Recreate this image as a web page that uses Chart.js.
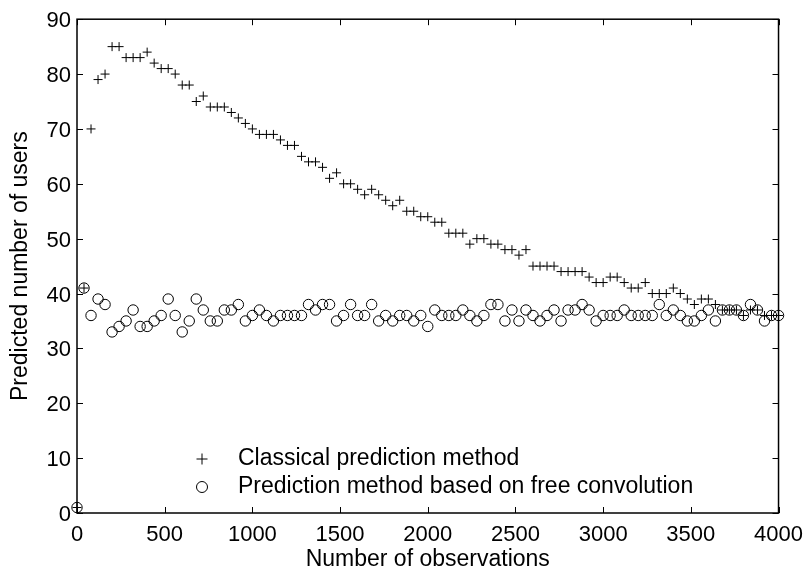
<!doctype html>
<html lang="en">
<head>
  <meta charset="utf-8">
  <title>Predicted number of users</title>
  <style>
    * {
      margin: 0;
      padding: 0;
    }
    body {
      background: white;
    }
    .chartBox {
      width: 812px;
      height: 570px;
    }
  </style>
</head>
<body>
<div class="chartBox">
  <canvas id="myChart" width="812" height="570"></canvas>
</div>

<script src="https://cdn.jsdelivr.net/npm/chart.js"></script>
<script>
  // number of observations (x)
  const observations = [
    0, 40, 80, 120, 160, 200, 240, 280, 320, 360,
    400, 440, 480, 520, 560, 600, 640, 680, 720, 760,
    800, 840, 880, 920, 960, 1000, 1040, 1080, 1120, 1160,
    1200, 1240, 1280, 1320, 1360, 1400, 1440, 1480, 1520, 1560,
    1600, 1640, 1680, 1720, 1760, 1800, 1840, 1880, 1920, 1960,
    2000, 2040, 2080, 2120, 2160, 2200, 2240, 2280, 2320, 2360,
    2400, 2440, 2480, 2520, 2560, 2600, 2640, 2680, 2720, 2760,
    2800, 2840, 2880, 2920, 2960, 3000, 3040, 3080, 3120, 3160,
    3200, 3240, 3280, 3320, 3360, 3400, 3440, 3480, 3520, 3560,
    3600, 3640, 3680, 3720, 3760, 3800, 3840, 3880, 3920, 3960,
    4000
  ];

  // classical prediction method (+)
  const classical = [
    1, 41, 70, 79, 80, 85, 85, 83, 83, 83,
    84, 82, 81, 81, 80, 78, 78, 75, 76, 74,
    74, 74, 73, 72, 71, 70, 69, 69, 69, 68,
    67, 67, 65, 64, 64, 63, 61, 62, 60, 60,
    59, 58, 59, 58, 57, 56, 57, 55, 55, 54,
    54, 53, 53, 51, 51, 51, 49, 50, 50, 49,
    49, 48, 48, 47, 48, 45, 45, 45, 45, 44,
    44, 44, 44, 43, 42, 42, 43, 43, 42, 41,
    41, 42, 40, 40, 40, 41, 40, 39, 38, 39,
    39, 38, 37, 37, 37, 36, 37, 37, 36, 36,
    36
  ];

  // prediction method based on free convolution (o)
  const freeConvolution = [
    1, 41, 36, 39, 38, 33, 34, 35, 37, 34,
    34, 35, 36, 39, 36, 33, 35, 39, 37, 35,
    35, 37, 37, 38, 35, 36, 37, 36, 35, 36,
    36, 36, 36, 38, 37, 38, 38, 35, 36, 38,
    36, 36, 38, 35, 36, 35, 36, 36, 35, 36,
    34, 37, 36, 36, 36, 37, 36, 35, 36, 38,
    38, 35, 37, 35, 37, 36, 35, 36, 37, 35,
    37, 37, 38, 37, 35, 36, 36, 36, 37, 36,
    36, 36, 36, 38, 36, 37, 36, 35, 35, 36,
    37, 35, 37, 37, 37, 36, 38, 37, 35, 36,
    36
  ];

  const seriesNames = ['Classical prediction method', 'Prediction method based on free convolution'];

  const fontFamily = '"Liberation Sans", Arial, Helvetica, sans-serif';
  Chart.defaults.font.family = fontFamily;
  Chart.defaults.font.size = 22;
  Chart.defaults.color = '#000';

  // box around the plot + inward tick marks on all four sides
  const frameTicks = {
    id: 'frameTicks',
    afterDraw(chart) {
      const {ctx, chartArea: a, scales: {x, y}} = chart;
      const len = 6;
      ctx.save();
      ctx.strokeStyle = '#000';
      ctx.lineWidth = 1;
      ctx.beginPath();
      x.ticks.forEach(t => {
        const px = Math.round(x.getPixelForValue(t.value)) + 0.5;
        ctx.moveTo(px, a.bottom); ctx.lineTo(px, a.bottom - len);
        ctx.moveTo(px, a.top); ctx.lineTo(px, a.top + len);
      });
      y.ticks.forEach(t => {
        const py = Math.round(y.getPixelForValue(t.value)) + 0.5;
        ctx.moveTo(a.left, py); ctx.lineTo(a.left + len, py);
        ctx.moveTo(a.right, py); ctx.lineTo(a.right - len, py);
      });
      ctx.stroke();
      ctx.lineWidth = 1.5;
      ctx.strokeRect(a.left, a.top, a.right - a.left, a.bottom - a.top);
      ctx.restore();
    }
  };

  // legend sitting inside the axes, lower left
  const innerLegend = {
    id: 'innerLegend',
    afterDatasetsDraw(chart) {
      const ctx = chart.ctx;
      ctx.save();
      ctx.strokeStyle = '#000';
      ctx.fillStyle = 'rgba(0,0,0,0)';
      ctx.lineWidth = 1;
      chart.data.datasets.forEach((ds, i) => {
        const yy = 459 + i * 28;
        Chart.helpers.drawPoint(ctx, {pointStyle: ds.pointStyle, radius: 5.5, borderWidth: 1, rotation: 0}, 202, yy);
      });
      ctx.fillStyle = '#000';
      ctx.font = '23px ' + fontFamily;
      ctx.textAlign = 'left';
      ctx.textBaseline = 'middle';
      chart.data.datasets.forEach((ds, i) => {
        ctx.fillText(ds.label, 238, 459 + i * 28);
      });
      ctx.restore();
    }
  };

  const data = {
    datasets: [
      {
        label: seriesNames[0],
        data: observations.map((o, i) => ({x: o, y: classical[i]})),
        pointStyle: 'cross',
        pointRadius: 4.5,
        pointBorderWidth: 1,
        borderColor: '#000',
        backgroundColor: 'rgba(0,0,0,0)',
        showLine: false,
        clip: false
      },
      {
        label: seriesNames[1],
        data: observations.map((o, i) => ({x: o, y: freeConvolution[i]})),
        pointStyle: 'circle',
        pointRadius: 5.2,
        pointBorderWidth: 1,
        borderColor: '#000',
        backgroundColor: 'rgba(0,0,0,0)',
        showLine: false,
        clip: false
      }
    ]
  };

  const config = {
    type: 'scatter',
    data,
    options: {
      responsive: false,
      animation: false,
      layout: {
        padding: {top: 15, right: 27, left: 0, bottom: 0}
      },
      scales: {
        x: {
          type: 'linear',
          min: 0,
          max: 4000,
          grid: {display: false, drawTicks: false},
          border: {display: false},
          ticks: {
            stepSize: 500,
            padding: 9,
            color: '#000',
            maxRotation: 0,
            callback: v => String(v)
          },
          title: {
            display: true,
            text: 'Number of observations',
            color: '#000',
            font: {size: 23},
            padding: {top: 0, bottom: -3}
          },
          afterFit(scale) { scale.height = 57; }
        },
        y: {
          min: 0,
          max: 90,
          grid: {display: false, drawTicks: false},
          border: {display: false},
          ticks: {stepSize: 10, padding: 6, color: '#000', labelOffset: 2},
          title: {
            display: true,
            text: 'Predicted number of users',
            color: '#000',
            font: {size: 23},
            padding: {top: 7, bottom: 0}
          },
          afterFit(scale) { scale.width = 77; }
        }
      },
      plugins: {
        legend: {display: false},
        tooltip: {enabled: false}
      }
    },
    plugins: [frameTicks, innerLegend]
  };

  const myChart = new Chart(document.getElementById('myChart'), config);
</script>
</body>
</html>
